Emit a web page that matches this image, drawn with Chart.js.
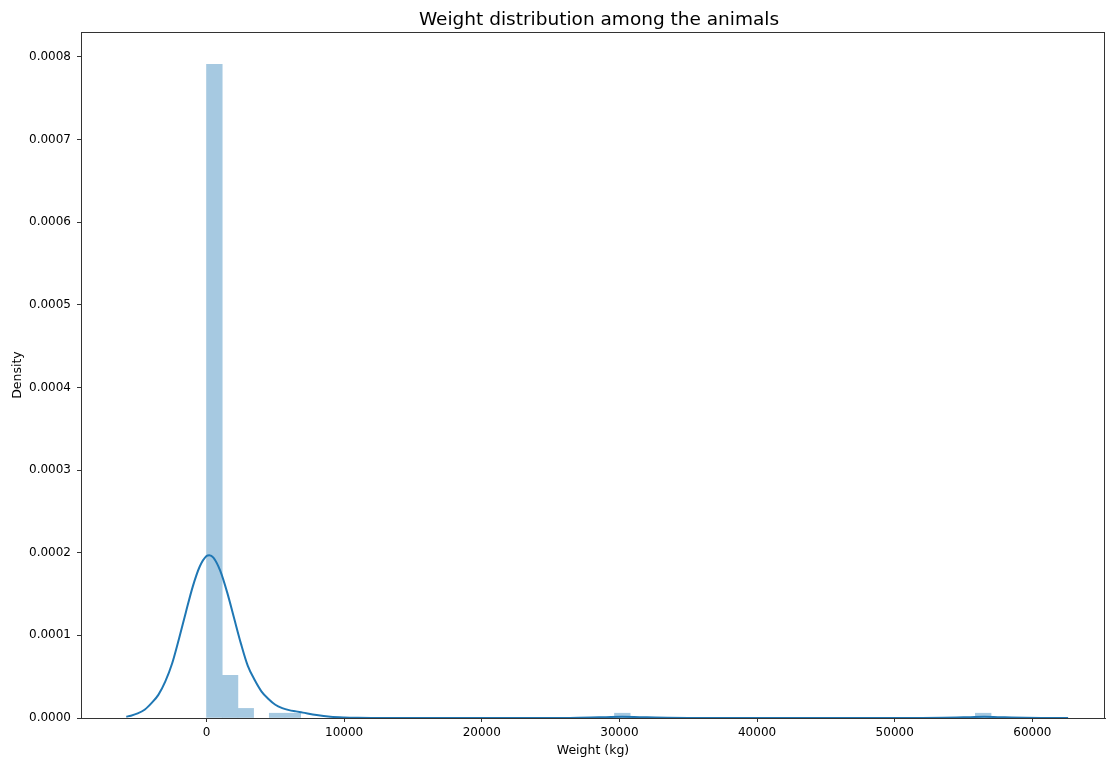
<!DOCTYPE html>
<html>
<head>
<meta charset="utf-8">
<script src="https://cdn.jsdelivr.net/npm/chart.js@4/dist/chart.umd.min.js"></script>
<style>
  html, body { margin: 0; padding: 0; background: #fff; }
  #wrap { width: 1106px; height: 761px; }
</style>
</head>
<body>
<div id="wrap"><canvas id="c" width="1106" height="761"></canvas></div>
<script>
// Histogram bins (only non-empty bins), bin width ~1140 kg
const binCenters = [570, 1710, 2850, 5130, 6270, 30210, 56430];
const binDensity = [0.000791, 0.0000516, 0.0000116, 0.0000058, 0.0000058, 0.0000058, 0.0000058];

// KDE curve points
const kdeX = [-5830, -5500, -5000, -4500, -4000, -3500, -3000, -2500, -2000, -1500, -1000, -500, 0, 200, 500, 1000, 1500, 2000, 2500, 3000, 3500, 4000, 4500, 5000, 5500, 6000, 6500, 7000, 8000, 9000, 10000, 11000, 12000, 14000, 26000, 27000, 28500, 30200, 32000, 33500, 35000, 52000, 53500, 55000, 56500, 58000, 59500, 61000, 62600];
const kdeY = [1.6e-6, 2.8e-6, 5.5e-6, 10e-6, 18e-6, 28e-6, 44e-6, 66e-6, 96e-6, 128e-6, 159e-6, 183e-6, 196e-6, 197e-6, 194e-6, 178e-6, 152e-6, 121e-6, 90e-6, 63e-6, 46e-6, 32e-6, 23e-6, 16e-6, 12e-6, 9.5e-6, 8e-6, 6.5e-6, 3.5e-6, 1.5e-6, 0.6e-6, 0.2e-6, 0.05e-6, 0, 0, 0.2e-6, 0.8e-6, 1.4e-6, 0.8e-6, 0.2e-6, 0, 0, 0.2e-6, 0.8e-6, 1.4e-6, 0.8e-6, 0.2e-6, 0.02e-6, 0];

const xTicks = [0, 10000, 20000, 30000, 40000, 50000, 60000];
const yTicks = [0, 0.0001, 0.0002, 0.0003, 0.0004, 0.0005, 0.0006, 0.0007, 0.0008];
const chartTitle = 'Weight distribution among the animals';

const FONT = "'DejaVu Sans', sans-serif";

const boxPlugin = {
  id: 'box',
  afterDraw(chart) {
    const a = chart.chartArea, ctx = chart.ctx;
    ctx.save();
    ctx.strokeStyle = '#333';
    ctx.lineWidth = 1;
    ctx.strokeRect(Math.round(a.left) + 0.5, Math.round(a.top) + 0.5, Math.round(a.right - a.left) - 1, Math.round(a.bottom - a.top));
    // title centred over the plot area
    ctx.fillStyle = '#000';
    ctx.font = "18.5px " + FONT;
    ctx.textAlign = 'center';
    ctx.textBaseline = 'alphabetic';
    ctx.fillText(chartTitle, (a.left + a.right) / 2 + 6, 25);
    ctx.restore();
  }
};

new Chart(document.getElementById('c'), {
  data: {
    datasets: [
      {
        type: 'bar',
        data: binCenters.map((x, i) => ({ x: x, y: binDensity[i] })),
        backgroundColor: 'rgb(166,201,225)',
        borderWidth: 0,
        barPercentage: 1,
        categoryPercentage: 1,
        order: 2
      },
      {
        type: 'line',
        data: kdeX.map((x, i) => ({ x: x, y: kdeY[i] })),
        borderColor: '#1f77b4',
        borderWidth: 2,
        pointRadius: 0,
        fill: false,
        cubicInterpolationMode: 'monotone',
        order: 1
      }
    ]
  },
  options: {
    responsive: false,
    animation: false,
    devicePixelRatio: 1,
    layout: { padding: { left: 0, right: 1, top: 32, bottom: 0 } },
    plugins: {
      legend: { display: false },
      tooltip: { enabled: false },
      title: { display: false }
    },
    scales: {
      x: {
        type: 'linear',
        min: -9120,
        max: 65280,
        offset: false,
        grid: { display: true, offset: false, drawOnChartArea: false, drawTicks: true, tickLength: 4, tickColor: '#333' },
        border: { display: true, color: '#333' },
        ticks: { color: '#000', font: { family: FONT, size: 12 }, padding: 4, maxRotation: 0, callback: v => String(v) },
        afterBuildTicks: s => { s.ticks = xTicks.map(v => ({ value: v })); },
        afterFit: s => { s.height = 43; },
        title: { display: true, text: 'Weight (kg)', color: '#000', font: { family: FONT, size: 12.5 }, padding: { top: 0, bottom: 3 } }
      },
      y: {
        type: 'linear',
        min: 0,
        max: 0.00083,
        grid: { display: true, offset: false, drawOnChartArea: false, drawTicks: true, tickLength: 4, tickColor: '#333' },
        border: { display: true, color: '#333' },
        ticks: { color: '#000', font: { family: FONT, size: 12 }, padding: 6, callback: v => Number(v).toFixed(4) },
        afterBuildTicks: s => { s.ticks = yTicks.map(v => ({ value: v })); },
        afterFit: s => { s.width = 81; },
        title: { display: true, text: 'Density', color: '#000', font: { family: FONT, size: 12.5 }, padding: { top: 10, bottom: 0 } }
      }
    }
  },
  plugins: [boxPlugin]
});
</script>
</body>
</html>
